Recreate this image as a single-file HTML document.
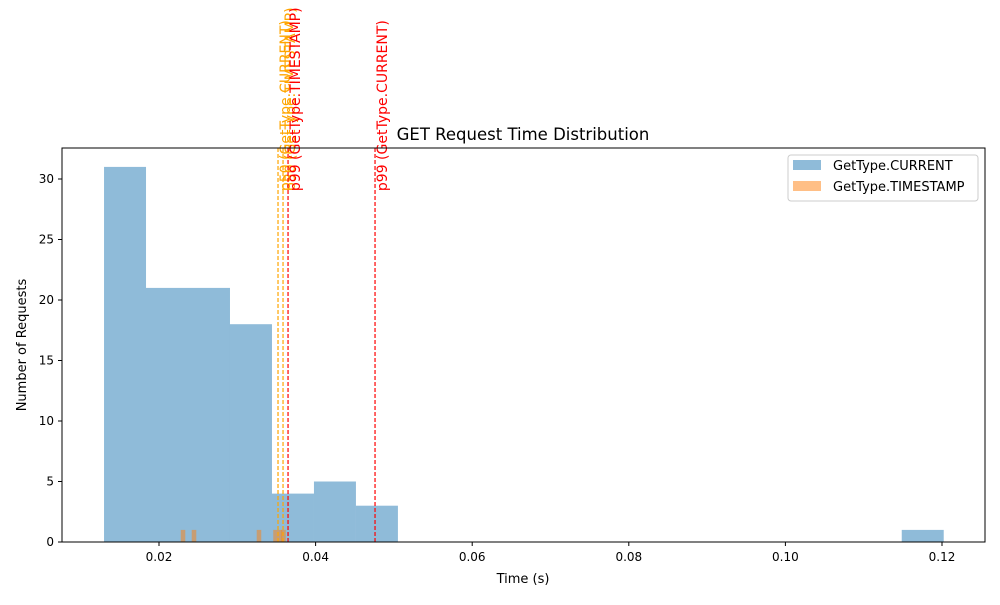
<!DOCTYPE html>
<html><head><meta charset="utf-8"><style>body{margin:0;background:#fff}svg{font-family:"DejaVu Sans","Liberation Sans",sans-serif}</style></head>
<body>
<svg id="chart" width="1000" height="600" xmlns="http://www.w3.org/2000/svg">
<rect width="1000" height="600" fill="#fff"/>
<text x="523" y="140" font-size="16.5" text-anchor="middle">GET Request Time Distribution</text>
<g id="bars"></g><g id="lines"></g><g id="axes"></g>
<text x="523" y="583" font-size="13" text-anchor="middle">Time (s)</text>
<text x="0" y="0" font-size="13" text-anchor="middle" transform="translate(26,345) rotate(-90)">Number of Requests</text>
<g>
<rect x="788" y="155" width="190" height="46" rx="3" fill="#fff" fill-opacity="0.8" stroke="#ccc"/>
<rect x="793" y="160" width="28" height="10" fill="#1f77b4" fill-opacity="0.5"/>
<text x="833" y="170" font-size="13">GetType.CURRENT</text>
<rect x="793" y="181" width="28" height="10" fill="#ff7f0e" fill-opacity="0.5"/>
<text x="833" y="191" font-size="13">GetType.TIMESTAMP</text>
</g>
</svg>
<script>
const currentCounts=[31,21,21,18,4,5,3,0,0,0,0,0,0,0,0,0,0,0,0,1];
const currentStart=0.01298, currentWidth=0.005362;
const timestampTimes=[0.02307,0.02447,0.03277,0.03488,0.03545,0.03590];
const timestampCounts=[1,1,1,1,1,1];
const timestampWidth=0.00058;
const pctLabels=["p50 (GetType.CURRENT)","p50 (GetType.TIMESTAMP)","p99 (GetType.TIMESTAMP)","p99 (GetType.CURRENT)"];
const pctValues=[0.03520,0.03584,0.03648,0.04759];
const pctColors=["orange","orange","red","red"];
const xTicks=[0.02,0.04,0.06,0.08,0.10,0.12];
const xTickLabels=["0.02","0.04","0.06","0.08","0.10","0.12"];
const yTicks=[0,5,10,15,20,25,30];
const NS="http://www.w3.org/2000/svg";
const L=62,R=985,T=148,B=542;
const X=v=>159+(v-0.02)*7830;
const Y=v=>B-v*12.1;
function mk(p,tag,a){const e=document.createElementNS(NS,tag);for(const k in a)e.setAttribute(k,a[k]);p.appendChild(e);return e;}
const bars=document.getElementById('bars'),lines=document.getElementById('lines'),axes=document.getElementById('axes');
currentCounts.forEach((c,i)=>{if(!c)return;const x0=X(currentStart+i*currentWidth),x1=X(currentStart+(i+1)*currentWidth);
const r=mk(bars,'rect',{x:x0,y:Y(c),width:x1-x0,height:B-Y(c),fill:'#1f77b4','fill-opacity':0.5});

});
timestampTimes.forEach((t,i)=>{const c=timestampCounts[i];const x0=X(t-timestampWidth/2),x1=X(t+timestampWidth/2);
const r=mk(bars,'rect',{x:x0,y:Y(c),width:x1-x0,height:B-Y(c),fill:'#ff7f0e','fill-opacity':0.5});

});
pctValues.forEach((v,i)=>{const x=X(v);
const l=mk(lines,'line',{x1:x,x2:x,y1:T,y2:B,stroke:pctColors[i],'stroke-width':1.2,'stroke-dasharray':'4,2'});


const t=mk(lines,'text',{transform:`translate(${x+12},${Y(29)}) rotate(-90)`,fill:pctColors[i],'font-size':14});
t.textContent=pctLabels[i];

});
const f=mk(axes,'rect',{x:L,y:T,width:R-L,height:B-T,fill:'none',stroke:'#000','stroke-width':1});


xTicks.forEach((v,i)=>{const x=X(v);mk(axes,'line',{x1:x,x2:x,y1:B,y2:B+4,stroke:'#000'});
const t=mk(axes,'text',{x:x,y:B+19,'font-size':12,'text-anchor':'middle'});t.textContent=xTickLabels[i];

});
yTicks.forEach(v=>{const y=Y(v);mk(axes,'line',{x1:L-4,x2:L,y1:y,y2:y,stroke:'#000'});
const t=mk(axes,'text',{x:L-8,y:y+4,'font-size':12,'text-anchor':'end'});t.textContent=v;

});
</script>
</body></html>
